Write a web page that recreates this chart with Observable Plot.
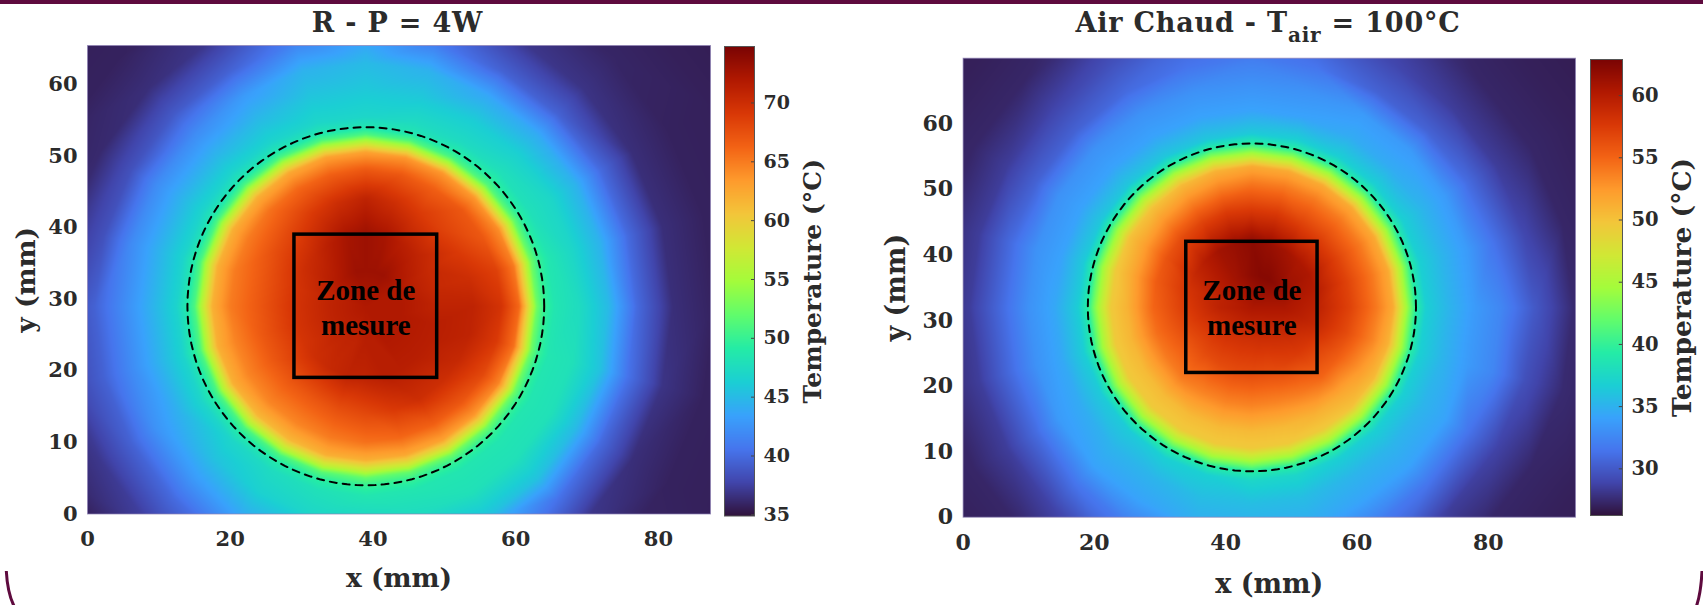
<!DOCTYPE html>
<html><head><meta charset="utf-8">
<script src="https://cdn.jsdelivr.net/npm/d3@7"></script>
<script src="https://cdn.jsdelivr.net/npm/@observablehq/plot@0.6"></script>
<style>
html,body{margin:0;padding:0;background:#fff;width:1703px;height:605px;overflow:hidden}
#page{position:relative;width:1703px;height:605px;overflow:hidden;font-family:"DejaVu Serif",serif}
#page > svg{position:absolute;top:0;background:transparent;overflow:visible}
.topbar{position:absolute;left:0;top:0;width:1703px;height:4px;background:#5e0a3e}
.title{position:absolute;font-weight:bold;color:#2b2b2b;white-space:nowrap;transform:translateX(-50%);font-size:27px;line-height:30px;letter-spacing:.8px}
.title sub{font-size:20px;vertical-align:-10px;line-height:0}
</style></head><body><div id="page">
<svg width="1703" height="605" style="left:0"><path d="M6.3,571 Q7.5,593 14,606" fill="none" stroke="#5e0a3e" stroke-width="3"/><path d="M1702,571 Q1701,593 1696.5,606" fill="none" stroke="#5e0a3e" stroke-width="3"/></svg>
<div class="topbar"></div>
<div class="title" style="left:397.5px;top:8px">R - P = 4W</div>
<div class="title" style="left:1268px;top:8px">Air Chaud - T<sub>air</sub> = 100°C</div>
</div>
<script>
// Matlab-like turbo colour stops
const turboStops = ["#30123b","#4145ab","#4675ed","#39a2fc","#1bcfd4","#24eca6","#61fc6c","#a4fc3b","#d1e835","#f3c63a","#fe9b2d","#f36315","#d93806","#b11901","#7a0403"];
// radii (mm) of the sampled rings around the disc centre; 24 directions per ring, counter-clockwise from east
const ringRadii = [5,10,15,19,21.5,23,24,25,26.5,30,34,38,43,49,56,64];

const centreA = 72;
const ringsA = [
[72,72,72,72.5,73,73,73,73,72.5,72,71.5,71,71,71,71,71,71,71,71.5,71.5,72,72,72,72],
[71,70.5,70.5,71,71.5,72.5,73,72.5,71.5,70.5,70,69.5,69.5,69.5,69.5,70,70.5,71,71,71.5,71.5,71.5,71.5,71.5],
[71,70,69,68.5,69,70,71,70,69,68,67.5,67,67,67,67,67,67,67.5,68,69,70,70,70.5,71],
[69.5,68.5,67,67,66.5,67,67,66.5,66,65.5,65,65,65,64.5,64.5,64.5,64.5,65,65.5,66,66.5,67,68,69],
[66,65,64,63.5,63.5,63.5,63,63,62.5,62,62,62,62,62,62,61.5,61.5,62,62,62.5,63,63.5,64.5,65.5],
[58,57.5,57,56.5,56,56,56,56,56,56,56,56,56,56,56,56,56,56.5,56.5,57,57.5,57.5,58,58],
[52.5,52.5,52,51.5,51,51,51,51,51,51,51,51,51,51,51,51,51,51.5,52,52,52.5,52.5,52.5,52.5],
[50,50,49.5,49.5,49,48.5,48.5,48.5,48.5,48.5,48.5,48.8,49,49,49,49,49,49.5,50,50,50,50,50,50],
[48.5,48.5,48,48,47.5,47.5,47,47,46.8,46.8,46.8,46.8,46.8,46.8,47,47,47.5,48,48.5,48.5,48.5,48.5,48.5,48.5],
[47.5,47,47,46.5,46.2,46,46,45.8,45,44.5,44.5,44.5,44.5,44.5,44.5,45.5,46.5,47,47,47.5,48,48,48,48],
[45,44.5,44.5,44,43.8,44.5,45,44.5,43,42,42,42,42,42,42.5,43,44,45,46,46,45.5,45.5,45,45.5],
[40,40,40,39.5,39.5,41,43,41.5,39.5,39,38.5,38.5,39.5,39.5,39.5,40,41,43,44.5,44.5,42.5,40.5,40,40.5],
[36.5,36.5,36.5,36.8,37,38.5,41,39,37,36.5,36.2,36.5,37.5,37.5,37,37.5,38.5,41,43,43,40,37,36.5,36.8],
[35.8,35.8,35.8,36,36,37,38,36.5,36,35.8,35.8,35.8,36,36,35.8,35.8,36.5,38,40.5,40,37.5,36,35.8,35.8],
[35.7,35.7,35.7,35.7,35.8,36,36.3,36,35.8,35.7,35.7,35.7,35.7,35.7,35.7,35.7,36,36.5,37,37,36,35.7,35.7,35.7],
[35.5,35.5,35.5,35.5,35.5,35.5,35.5,35.5,35.5,35.5,35.5,35.5,35.5,35.5,35.5,35.5,35.5,35.5,35.5,35.5,35.5,35.5,35.5,35.5]
];

const centreB = 60.5;
const ringsB = [
[60.5,61,61.5,62,62.3,62.3,62,61.5,61,60.5,60,59.5,59.5,59,58.7,58.5,58.3,58.3,58.3,58.5,58.7,59,59.5,60],
[59.5,60,60.5,60.5,61,61.5,62,61.5,61,60,59,58,57.5,57,56.5,56.5,56.5,56.5,56.5,56.5,57,57.5,58,59],
[57,57,57,57,57,57.5,57.5,57.5,57,56.5,56,55.5,55,54.5,54,54,53.5,53.5,53.5,53.5,54,55,55.5,56.5],
[54,54,54,54,54,54,54,53.5,53,52.5,52,51.5,51,50.8,50.5,50.5,50.5,50.5,50.5,50.5,51,51.5,52.5,53.5],
[51.5,51.5,51.5,51.5,51.5,51.5,51.5,51,50.5,50,50,49.5,49.5,49.5,49.5,49.5,49.5,49.5,49.5,49.5,49.5,50,50.5,51],
[46.5,46.5,46.5,46.5,46.5,46.5,46.5,46.5,46.5,46.2,46,46,46,46,46,46,46,46,46,46,46,46.2,46.2,46.5],
[43,43,43,43,43,43,43,43,43,43,43,43,43,43,43,43,43,43,43,43,43,43,43,43],
[39.5,39.5,39.5,39.5,39.5,39.5,39.5,39.5,39.5,39.5,39.5,39.5,39.5,39.5,39.5,39.5,39.5,39.5,39.5,39.5,39.5,39.5,39.5,39.5],
[36.8,36.8,36.8,36.8,36.8,36.8,36.5,36.3,36.3,36.3,36.3,36.5,36.7,36.7,36.5,36.5,36.8,36.8,37.3,37.3,36.8,36.8,36.8,36.8],
[35.2,35.2,35.2,34.7,34.7,34.2,34.2,34.2,34.2,34.2,34.2,34.2,34.5,34.5,34.7,35.2,35.2,35.7,35.7,35.7,35.2,35.2,35.2,35.2],
[33.7,33.7,33.7,33.7,33.7,33.2,33.2,33.2,33.2,33.2,33.2,33.2,33.2,33.2,33.7,34.2,34.2,34.7,34.7,34.7,34.2,34.2,34.2,33.7],
[32.5,31.5,31,30.5,30.5,31.5,32,31.5,31,30.5,30.5,31,31,31,31,31.5,32,32.5,33,33,32,31.5,31.5,32.5],
[30,29,28.5,28.5,29,30,31,30.5,29.5,28.8,28.5,28.5,28.5,28.5,28.5,28.8,30,31,32,32,30,28.5,28.8,29.5],
[27.5,27.3,27.3,27.3,28,28.5,29.5,29,28,27.3,27.3,27.3,27.3,27.3,27.3,27.3,28.5,30,31,31,28.5,27.3,27.3,27.5],
[27,27,27,27,27.2,27.5,28.5,27.5,27.2,27,27,27,27,27,27,27,27.5,28.5,29,29,28,27,27,27],
[26.8,26.8,26.8,26.8,26.8,26.8,26.8,26.8,26.8,26.8,26.8,26.8,26.8,26.8,26.8,26.8,26.8,26.8,26.8,26.8,26.8,26.8,26.8,26.8]
];

const xTicks = [0,20,40,60,80];
const yTicks = [0,10,20,30,40,50,60];
const barTicksA = [35,40,45,50,55,60,65,70];
const barTicksB = [30,35,40,45,50,55,60];

const panelA = {
  left:0, width:860, plot:[87,710,45,513.5], xMax:87.3, yMax:65.4,
  disc:{x:39,y:29,r:25}, box:{x1:29,x2:49,y1:19,y2:39}, zone:{x:39,y:28.95},
  centre:centreA, rings:ringsA, scale:[34.9,74.8], tickSize:21, labelSize:26.5, xOff:72.5, yOff:71.5,
  bar:[724,754,46,515.5], barTicks:barTicksA, barFont:19, barLabelX:820, barLabelSize:25
};
const panelB = {
  left:860, width:843, plot:[962.6,1575,57.7,516.7], xMax:93.3, yMax:70,
  disc:{x:44,y:32,r:25}, box:{x1:34,x2:54,y1:22,y2:42}, zone:{x:44,y:32.15},
  centre:centreB, rings:ringsB, scale:[26.25,62.9], tickSize:22, labelSize:27, xOff:75.5, yOff:77,
  bar:[1590,1622,59,515], barTicks:barTicksB, barFont:19.5, barLabelX:1690, barLabelSize:26.5
};
const H = 605;
const ink = "#2b2b2b";
const fontFamily = '"DejaVu Serif", serif';

function samples(p){
  const pts = [{x:p.disc.x,y:p.disc.y,t:p.centre}];
  ringRadii.forEach((r,i)=>p.rings[i].forEach((t,k)=>{
    const a = k*Math.PI/12;
    pts.push({x:p.disc.x+r*Math.cos(a), y:p.disc.y+r*Math.sin(a), t});
  }));
  return pts;
}
function colorScale(p){
  return {type:"linear",domain:p.scale,clamp:true,interpolate:d3.piecewise(d3.interpolateRgb,turboStops)};
}
function draw(p){
  const [l,r,t,b] = p.plot;
  const circle = d3.range(0,361,3).map(d=>({x:p.disc.x+p.disc.r*Math.cos(d*Math.PI/180),y:p.disc.y+p.disc.r*Math.sin(d*Math.PI/180)}));
  const heat = Plot.plot({
    width:p.width,height:H,
    marginLeft:l-p.left,marginRight:p.left+p.width-r,marginTop:t,marginBottom:H-b,
    style:{background:"transparent",fontFamily,overflow:"visible"},
    x:{domain:[0,p.xMax]},y:{domain:[0,p.yMax]},color:colorScale(p),
    marks:[
      Plot.raster(samples(p),{x:"x",y:"y",fill:"t",interpolate:"barycentric"}),
      Plot.frame({stroke:"#8d80b4",strokeWidth:1,strokeOpacity:0.7}),
      Plot.line(circle,{x:"x",y:"y",stroke:"#000",strokeWidth:2,strokeDasharray:"7,6"}),
      Plot.rect([p.box],{x1:"x1",x2:"x2",y1:"y1",y2:"y2",stroke:"#000",strokeWidth:3.5,fill:"none"}),
      Plot.text([p.zone],{x:"x",y:"y",text:()=>"Zone de\nmesure",fontFamily:'"Liberation Serif", serif',fontWeight:"bold",fontSize:29,lineHeight:1.2,fill:"#000"}),
      Plot.axisX({ticks:xTicks,tickFormat:d=>d,tickSize:0,tickPadding:17,fontSize:p.tickSize,fontWeight:"bold",color:ink,label:null}),
      Plot.axisY({ticks:yTicks,tickFormat:d=>d,tickSize:0,tickPadding:10,fontSize:p.tickSize,fontWeight:"bold",color:ink,label:null}),
      Plot.axisX({ticks:[],tickSize:0,fontSize:p.labelSize,fontWeight:"bold",color:ink,label:"x (mm)",labelAnchor:"center",labelArrow:false,labelOffset:p.xOff}),
      Plot.axisY({ticks:[],tickSize:0,fontSize:p.labelSize,fontWeight:"bold",color:ink,label:"y (mm)",labelAnchor:"center",labelArrow:false,labelOffset:p.yOff})
    ]
  });
  const [bl,br,bt,bb] = p.bar;
  const barW = 160;
  const bar = Plot.plot({
    width:barW,height:H,
    marginLeft:4,marginRight:barW-4-(br-bl),marginTop:bt,marginBottom:H-bb,
    style:{background:"transparent",fontFamily,overflow:"visible"},
    x:{domain:[0,1],axis:null},y:{domain:p.scale},color:colorScale(p),
    marks:[
      Plot.raster({fill:(x,y)=>y,x1:0,x2:1,y1:p.scale[0],y2:p.scale[1],pixelSize:1}),
      Plot.ruleY(p.barTicks,{x1:0.9,x2:1,stroke:"#444",strokeWidth:1}),
      Plot.frame({stroke:"#555",strokeWidth:1}),
      Plot.axisY({anchor:"right",ticks:p.barTicks,tickFormat:d=>d,tickSize:0,tickPadding:9,fontSize:p.barFont,fontWeight:"bold",color:ink,label:null}),
      Plot.axisY({anchor:"right",ticks:[],tickSize:0,fontSize:p.barLabelSize,fontWeight:"bold",color:ink,label:"Temperature (°C)",labelAnchor:"center",labelArrow:false,labelOffset:p.barLabelX-br})
    ]
  });
  heat.style.left = p.left+"px";
  bar.style.left = (bl-4)+"px";
  const page = document.getElementById("page");
  page.appendChild(heat);page.appendChild(bar);
}
draw(panelA);draw(panelB);
</script>
</body></html>
